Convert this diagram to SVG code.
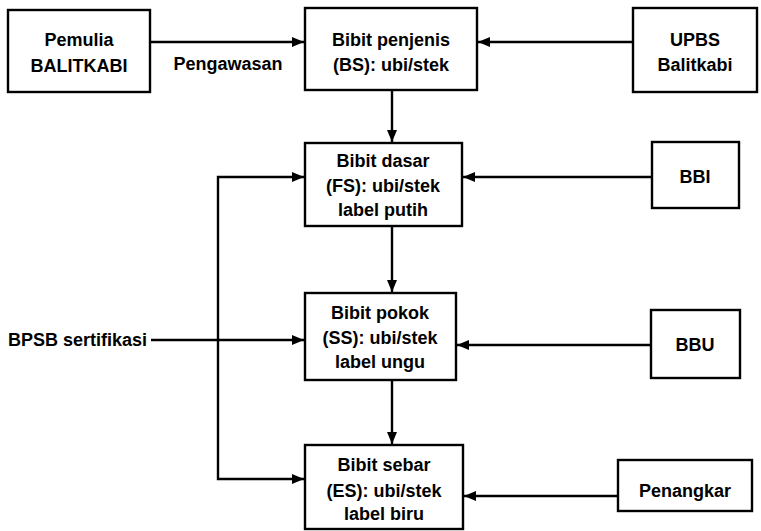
<svg xmlns="http://www.w3.org/2000/svg" width="761" height="531" viewBox="0 0 761 531">
<style>
.box{fill:#fff;stroke:#000;stroke-width:2.4}
.t{font-family:"Liberation Sans",Arial,sans-serif;font-weight:bold;font-size:18px;fill:#000;text-anchor:middle}
.tl{font-family:"Liberation Sans",Arial,sans-serif;font-weight:bold;font-size:18px;fill:#000;text-anchor:start}
.c{fill:none;stroke:#000;stroke-width:2.4}
</style>
<defs>
<marker id="ah" markerUnits="userSpaceOnUse" markerWidth="13" markerHeight="11" refX="12" refY="5" orient="auto-start-reverse" viewBox="0 0 13 11">
<path d="M0,0 L12,5 L0,10 z" fill="#000"/>
</marker>
</defs>
<rect width="761" height="531" fill="#fff"/>
<g id="connectors">
<path class="c" d="M150,42 H304" marker-end="url(#ah)"/>
<path class="c" d="M633,42 H478" marker-end="url(#ah)"/>
<path class="c" d="M392,90 V142" marker-end="url(#ah)"/>
<path class="c" d="M652,177 H463" marker-end="url(#ah)"/>
<path class="c" d="M304,177 H218 V479 H304" marker-start="url(#ah)" marker-end="url(#ah)"/>
<path class="c" d="M151,340 H304" marker-end="url(#ah)"/>
<path class="c" d="M392,226 V292" marker-end="url(#ah)"/>
<path class="c" d="M651,345 H457" marker-end="url(#ah)"/>
<path class="c" d="M392,380 V444" marker-end="url(#ah)"/>
<path class="c" d="M618,496 H464" marker-end="url(#ah)"/>
</g>
<g id="pemulia">
<rect class="box" x="8" y="10" width="142" height="82"/>
<text class="t" x="79" y="46">Pemulia</text>
<text class="t" x="79" y="72">BALITKABI</text>
</g>
<g id="pengawasan">
<text class="t" x="228" y="70">Pengawasan</text>
</g>
<g id="bs">
<rect class="box" x="305" y="8" width="172" height="82"/>
<text class="t" x="391" y="46">Bibit penjenis</text>
<text class="t" x="391" y="71">(BS): ubi/stek</text>
</g>
<g id="upbs">
<rect class="box" x="633" y="8" width="124" height="84"/>
<text class="t" x="695" y="46">UPBS</text>
<text class="t" x="695" y="71">Balitkabi</text>
</g>
<g id="fs">
<rect class="box" x="305" y="143" width="157" height="83"/>
<text class="t" x="383" y="167">Bibit dasar</text>
<text class="t" x="383" y="192">(FS): ubi/stek</text>
<text class="t" x="383" y="216">label putih</text>
</g>
<g id="bbi">
<rect class="box" x="652" y="142" width="87" height="66"/>
<text class="t" x="695" y="183">BBI</text>
</g>
<g id="bpsb">
<text class="tl" x="8" y="346">BPSB sertifikasi</text>
</g>
<g id="ss">
<rect class="box" x="305" y="293" width="151" height="87"/>
<text class="t" x="380" y="319">Bibit pokok</text>
<text class="t" x="380" y="344">(SS): ubi/stek</text>
<text class="t" x="380" y="368">label ungu</text>
</g>
<g id="bbu">
<rect class="box" x="651" y="310" width="89" height="68"/>
<text class="t" x="695" y="351">BBU</text>
</g>
<g id="es">
<rect class="box" x="305" y="445" width="158" height="84"/>
<text class="t" x="384" y="471">Bibit sebar</text>
<text class="t" x="384" y="497">(ES): ubi/stek</text>
<text class="t" x="384" y="520">label biru</text>
</g>
<g id="penangkar">
<rect class="box" x="618" y="460" width="134" height="51"/>
<text class="t" x="685" y="497">Penangkar</text>
</g>
</svg>
